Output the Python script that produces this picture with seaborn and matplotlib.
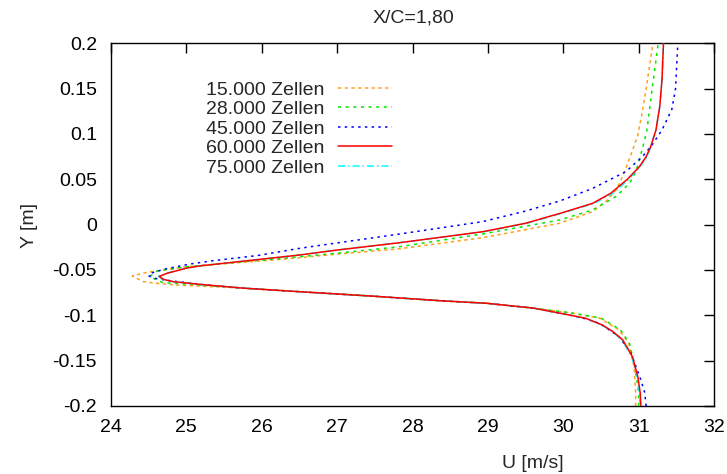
import matplotlib
matplotlib.use("Agg")
import matplotlib.pyplot as plt
import seaborn as sns
import pandas as pd

# ---------------- data ----------------
labels = ["15.000 Zellen", "28.000 Zellen", "45.000 Zellen", "60.000 Zellen", "75.000 Zellen"]
colors = ["#ffa020", "#00e800", "#0000ff", "#ff0000", "#00ffff"]

y_15 = [-0.200, -0.185, -0.157, -0.131, -0.116, -0.103, -0.097, -0.092, -0.0867, -0.0839, -0.079,
        -0.074, -0.070, -0.0666, -0.0647, -0.0629, -0.0566, -0.0526, -0.0464, -0.0425, -0.038,
        -0.0325, -0.0266, -0.0144, 0.0015, 0.0143, 0.026, 0.0382, 0.050, 0.062, 0.0823, 0.0989,
        0.125, 0.150, 0.200]
u_15 = [30.96, 30.96, 30.94, 30.87, 30.74, 30.48, 30.08, 29.60, 28.98, 28.37, 27.50,
        26.51, 25.75, 24.87, 24.61, 24.43, 24.28, 24.48, 25.00, 25.60, 26.30,
        27.00, 27.83, 28.93, 29.95, 30.39, 30.57, 30.70, 30.77, 30.83, 30.92, 30.99,
        31.05, 31.10, 31.19]

y_28 = [-0.200, -0.185, -0.157, -0.131, -0.116, -0.103, -0.097, -0.092, -0.0867, -0.0839, -0.079,
        -0.074, -0.070, -0.066, -0.064, -0.0574, -0.0511, -0.0465, -0.042, -0.037,
        -0.0315, -0.0243, -0.0103, 0.0051, 0.0162, 0.031, 0.0456, 0.058, 0.0713, 0.0934, 0.1044,
        0.150, 0.200]
u_28 = [31.00, 31.00, 30.95, 30.88, 30.76, 30.50, 30.08, 29.60, 28.98, 28.37, 27.50,
        26.51, 25.75, 25.10, 24.69, 24.51, 24.61, 25.00, 25.60, 26.30,
        27.00, 27.83, 28.93, 29.95, 30.39, 30.70, 30.88, 30.96, 31.01, 31.08, 31.11,
        31.18, 31.26]

y_45 = [-0.200, -0.185, -0.1713, -0.1419, -0.1235, -0.1088, -0.1035, -0.100, -0.092, -0.0867,
        -0.0839, -0.079, -0.074, -0.070, -0.066, -0.062, -0.0595, -0.0565, -0.053, -0.0489,
        -0.0434, -0.0397, -0.034, -0.026, -0.0103, 0.0033, 0.015, 0.026, 0.040, 0.0584, 0.075,
        0.088, 0.1044, 0.127, 0.150, 0.200]
u_45 = [31.10, 31.08, 31.03, 30.90, 30.74, 30.48, 30.28, 30.10, 29.60, 28.98,
        28.37, 27.50, 26.51, 25.75, 25.20, 24.80, 24.60, 24.50, 24.55, 24.72,
        25.05, 25.36, 25.95, 26.51, 27.83, 28.93, 29.50, 29.95, 30.39, 30.83, 31.05,
        31.18, 31.31, 31.44, 31.49, 31.52]

y_60 = [-0.200, -0.185, -0.168, -0.146, -0.1272, -0.118, -0.1107, -0.1033, -0.0996, -0.092,
        -0.0867, -0.0839, -0.079, -0.074, -0.070, -0.066, -0.0629, -0.0605, -0.0570, -0.0535,
        -0.048, -0.0455, -0.0415, -0.0335, -0.028, -0.0199, -0.0078, 0.0015, 0.0135, 0.0235,
        0.0346, 0.050, 0.0639, 0.075, 0.0859, 0.1044, 0.130, 0.160, 0.200]
u_60 = [31.03, 31.02, 30.99, 30.92, 30.79, 30.66, 30.52, 30.30, 30.08, 29.60,
        28.98, 28.37, 27.50, 26.51, 25.75, 25.20, 24.83, 24.70, 24.64, 24.75,
        25.00, 25.18, 25.62, 26.50, 27.00, 27.83, 28.93, 29.50, 30.00, 30.39,
        30.63, 30.85, 31.01, 31.10, 31.16, 31.23, 31.28, 31.31, 31.33]

y_75 = [-0.200, -0.185, -0.168, -0.146, -0.1272, -0.118, -0.1107, -0.1033, -0.0996, -0.092,
        -0.0867, -0.0839, -0.079, -0.074, -0.070, -0.066, -0.0629, -0.0605, -0.0570, -0.0535,
        -0.048, -0.0455, -0.0415, -0.0335, -0.028, -0.0199, -0.0078, 0.0015, 0.0135, 0.0235,
        0.0346, 0.050, 0.0639, 0.075, 0.0859, 0.1044, 0.130, 0.160, 0.200]
u_75 = [31.02, 31.01, 30.98, 30.91, 30.78, 30.65, 30.51, 30.29, 30.08, 29.60,
        28.98, 28.37, 27.50, 26.51, 25.75, 25.20, 24.82, 24.69, 24.63, 24.74,
        25.00, 25.18, 25.62, 26.50, 27.00, 27.83, 28.95, 29.52, 30.02, 30.41,
        30.66, 30.87, 31.02, 31.11, 31.16, 31.23, 31.28, 31.31, 31.33]

x_ticks = [24, 25, 26, 27, 28, 29, 30, 31, 32]
y_ticks = [-0.2, -0.15, -0.1, -0.05, 0.0, 0.05, 0.1, 0.15, 0.2]
y_ticklabels = ["-0.2", "-0.15", "-0.1", "-0.05", "0", "0.05", "0.1", "0.15", "0.2"]
title = "X/C=1,80"
xlabel = "U [m/s]"
ylabel = "Y [m]"

# ---------------- figure ----------------
sns.set_style("white")
plt.rcParams["font.family"] = ["Liberation Sans", "DejaVu Sans"]
FS = 14
plt.rcParams["font.size"] = FS

fig = plt.figure(figsize=(7.27, 4.74), dpi=100)
ax = fig.add_axes([111 / 727, 1 - 406 / 474, (714 - 111) / 727, (406 - 43.3) / 474])

series = [(y_15, u_15), (y_28, u_28), (y_45, u_45), (y_60, u_60), (y_75, u_75)]
styles = [(0, (2.2, 2.2)), (0, (2.0, 3.0)), (0, (1.6, 2.8)), "-", (0, (4.5, 2, 1, 2))]
zorders = [2, 3, 4, 6, 5]
handles = []
for (yy, uu), lab, col, ls, zo in zip(series, labels, colors, styles, zorders):
    df = pd.DataFrame({"U": uu, "Y": yy})
    sns.lineplot(data=df, x="U", y="Y", sort=False, estimator=None, ax=ax,
                 color=col, linestyle=ls, linewidth=1.1, zorder=zo)
    handles.append(ax.lines[-1])

ax.set_xlim(24, 32)
ax.set_ylim(-0.2, 0.2)
ax.set_xticks(x_ticks)
ax.set_xticklabels([str(t) for t in x_ticks])
ax.set_yticks(y_ticks)
ax.set_yticklabels(y_ticklabels)
ax.tick_params(direction="in", top=True, right=True, length=7, width=1.0,
               labelsize=FS, colors="black")
ax.tick_params(axis="x", pad=9)
ax.tick_params(axis="y", pad=10)
for s in ax.spines.values():
    s.set_visible(True)
    s.set_color("black")
    s.set_linewidth(1.0)
ax.set_xlabel("")
ax.set_ylabel("")

fig.text(413 / 727, 1 - 18 / 474, title, ha="center", va="center", fontsize=FS)
fig.text(533 / 727, 1 - 463 / 474, xlabel, ha="center", va="center", fontsize=FS)
fig.text(30 / 727, 1 - 225 / 474, ylabel, ha="center", va="center", rotation=90, fontsize=FS)

leg = ax.legend(handles, labels, loc="upper left",
                bbox_to_anchor=(206 / 727, 1 - 81 / 474), bbox_transform=fig.transFigure,
                frameon=False, markerfirst=False, borderpad=0, borderaxespad=0,
                handlelength=2.78, handletextpad=0.67, labelspacing=0.1, fontsize=FS)

fig.savefig("out.png", dpi=100)
